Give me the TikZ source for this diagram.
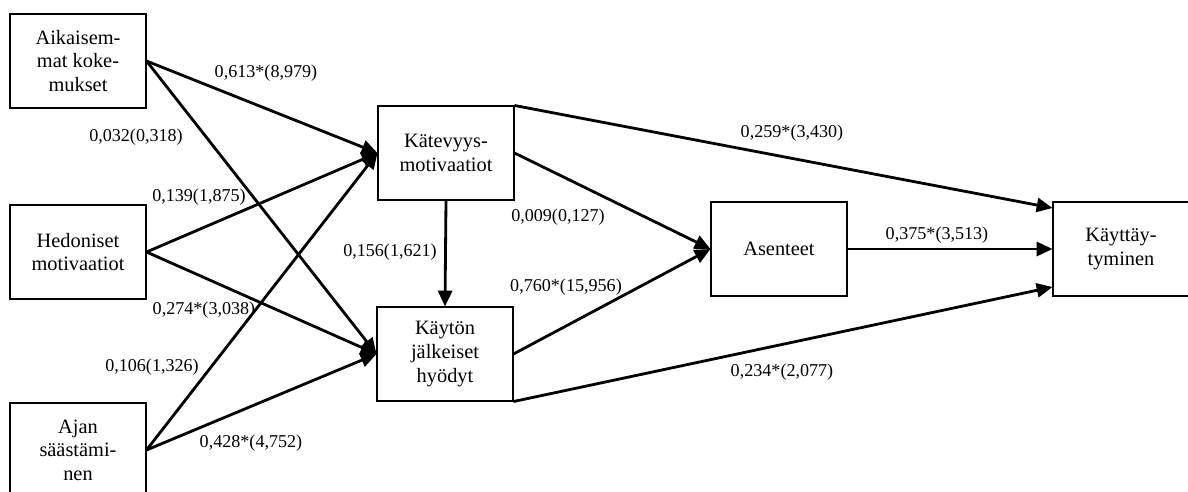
\documentclass[tikz,border=0pt]{standalone}
\usepackage{fontspec}
\setmainfont{Liberation Serif}
\usetikzlibrary{arrows.meta}

\begin{document}
\begin{tikzpicture}[x=0.02cm,y=-0.02cm,
    box/.style={draw, line width=0.6pt, minimum width=2.72cm, minimum height=1.88cm,
        align=center, inner sep=0pt, font=\fontsize{11.6}{13.4}\selectfont},
    path/.style={line width=1.6pt, -{Triangle[length=9pt,width=8pt]}},
    coef/.style={font=\fontsize{10.3}{12}\selectfont, inner sep=0pt}]

    % Define the page
    \useasboundingbox (0,0) rectangle (1188,491);

    % Draw the constructs
    \node[box] (prev) at (78,61)   {Aikaisem-\\mat koke-\\mukset};
    \node[box] (hed)  at (78,252)  {Hedoniset\\motivaatiot};
    \node[box] (time) at (78,450)  {Ajan\\säästämi-\\nen};
    \node[box] (conv) at (446,153) {Kätevyys-\\motivaatiot};
    \node[box] (post) at (445,354) {Käytön\\jälkeiset\\hyödyt};
    \node[box] (att)  at (779,249) {Asenteet};
    \node[box] (beh)  at (1121,249) {Käyttäy-\\tyminen};

    % Draw the paths
    \draw[path] (prev.east) -- (conv.west);
    \draw[path] (prev.east) -- (post.west);
    \draw[path] (hed.east) -- (conv.west);
    \draw[path] (hed.east) -- (post.west);
    \draw[path] (time.east) -- (conv.west);
    \draw[path] (time.east) -- (post.west);
    \draw[path] (conv.south) -- (post.north);
    \draw[path] (conv.east) -- (att.west);
    \draw[path] (post.east) -- (att.west);
    \draw[path] (conv.north east) -- ([yshift=0.82cm]beh.west);
    \draw[path] (att.east) -- (beh.west);
    \draw[path] (post.south east) -- ([yshift=-0.76cm]beh.west);

    % Label the paths
    \node[coef] (c1)  at (266,73)  {0,613*(8,979)};
    \node[coef] (c2)  at (136,137) {0,032(0,318)};
    \node[coef] (c3)  at (199,197) {0,139(1,875)};
    \node[coef] (c4)  at (204,310) {0,274*(3,038)};
    \node[coef] (c5)  at (152,367) {0,106(1,326)};
    \node[coef] (c6)  at (251,443) {0,428*(4,752)};
    \node[coef] (c7)  at (390,252) {0,156(1,621)};
    \node[coef] (c8)  at (558,217) {0,009(0,127)};
    \node[coef] (c9)  at (566,287) {0,760*(15,956)};
    \node[coef] (c10) at (792,133) {0,259*(3,430)};
    \node[coef] (c11) at (937,235) {0,375*(3,513)};
    \node[coef] (c12) at (782,372) {0,234*(2,077)};

\end{tikzpicture}
\end{document}
